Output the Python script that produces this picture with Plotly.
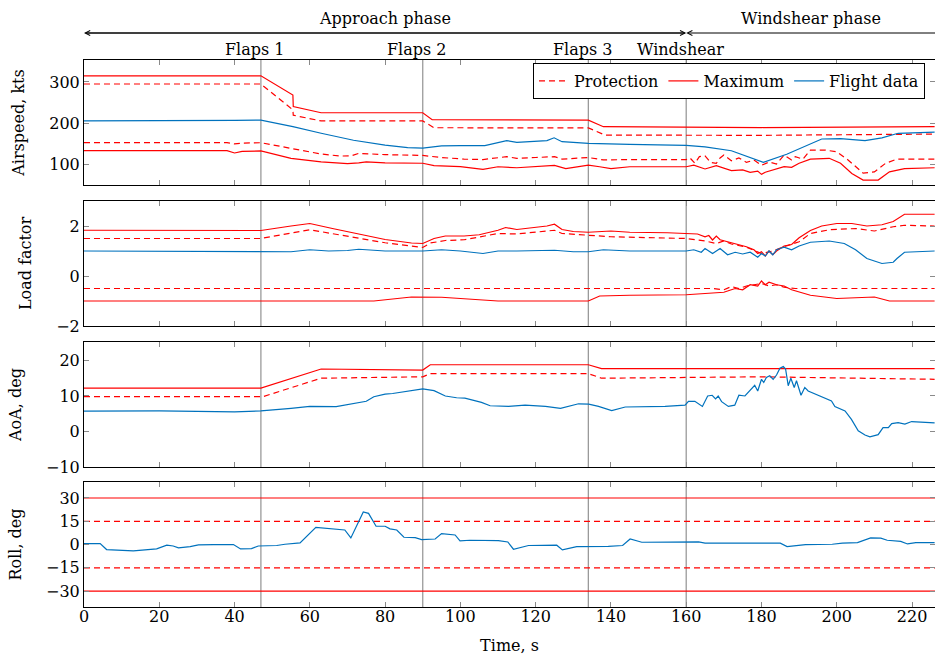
import plotly.graph_objects as go
from plotly.subplots import make_subplots

# ---------------- data ----------------
flap_times = [47, 90, 134]
flap_labels = ["Flaps 1", "Flaps 2", "Flaps 3"]
windshear_time = 160
t_end = 226.1
phase_labels = ["Approach phase", "Windshear phase"]
x_ticks = [0, 20, 40, 60, 80, 100, 120, 140, 160, 180, 200, 220]

# Airspeed, kts
as_max_hi_t = [0, 47, 55.5, 55.6, 63, 90, 92.5, 134, 138, 180, 226]
as_max_hi = [315, 315, 268, 240, 225, 225, 208, 207, 191, 189, 191]
as_prot_hi_t = [0, 47, 55.5, 55.6, 63, 90, 93, 134, 138.5, 180, 226]
as_prot_hi = [295, 295, 232, 219, 205, 205, 188.5, 188, 170.5, 170, 173]
as_blue_t = [0, 20, 40, 47, 55.5, 63, 71.6, 80, 86, 90, 95, 100, 106.5, 112.3, 115, 123, 124.9, 127,
             134, 145, 160, 165, 172, 180.5, 186.7, 196, 201, 207.5, 212, 216.3, 226]
as_blue = [205, 205, 206.5, 207, 191, 175, 158, 146, 140, 139, 144.5, 145, 145, 157, 153, 157, 164, 154.5,
           150.5, 148, 145.5, 142, 132.5, 104, 124, 161, 162, 157, 164, 175, 178]
as_prot_lo_t = [0, 38, 40, 42, 47, 55, 63, 68, 71, 73, 80, 90, 95, 101, 106, 112.3, 115, 120, 125, 127,
                134, 138, 145, 160, 161, 162.3, 163.5, 165, 166.5, 168, 169, 170, 172, 174, 176, 178, 180,
                182, 184, 186, 188, 189, 191, 193, 197, 200, 203, 207, 210, 213, 216, 220, 226]
as_prot_lo = [152, 152, 149, 151, 152, 138, 124.5, 119.5, 120, 126, 123, 121, 116, 112, 111, 118, 114, 116,
              118, 112, 116, 110, 111, 111, 115, 102, 118, 120, 104, 102, 115, 122, 108, 115, 104, 110, 97,
              105, 100, 122, 110, 118, 112, 134, 134, 130, 110, 78, 81, 102, 112, 112, 112]
as_max_lo_t = [0, 38, 40, 42, 47, 55, 63, 67, 70, 73, 75, 80, 90, 93, 100, 106, 110, 115, 123, 125, 128,
               134, 137, 140, 145, 160, 162, 165, 168, 172, 175, 177, 179, 180, 181, 183, 186, 188, 190,
               193, 198, 201, 204, 207, 211, 214, 218, 226]
as_max_lo = [132.5, 132.5, 127, 131, 132, 114, 105.5, 103, 101, 103, 105.5, 103, 102, 96, 94, 87, 93.5, 91,
             95, 97, 89, 97.5, 93.5, 89, 93.5, 93.5, 97.5, 88, 96, 84, 86, 80, 83, 75, 80, 85, 93.5, 92,
             102, 112, 114, 102, 77, 61, 61, 81, 89, 91]

# Load factor
lf_max_hi_t = [0, 40, 47, 55, 60, 66, 72, 80, 87, 90, 93, 96, 101, 105, 110, 112, 115, 120, 123, 125, 127,
               130, 134, 140, 145, 155, 160, 163, 165, 166, 167, 168, 169, 172, 176, 178, 179, 180, 181,
               182, 183, 184, 186, 188, 190, 193, 196, 200, 204, 208, 212, 215, 218, 226]
lf_max_hi = [1.83, 1.84, 1.82, 2.0, 2.1, 1.9, 1.7, 1.46, 1.32, 1.3, 1.5, 1.6, 1.6, 1.65, 1.83, 1.94, 1.86,
             1.94, 2.0, 2.07, 1.86, 1.78, 1.75, 1.8, 1.75, 1.73, 1.7, 1.68, 1.57, 1.62, 1.44, 1.6, 1.45,
             1.33, 1.17, 1.05, 0.9, 0.97, 0.8, 1.0, 0.85, 1.0, 1.2, 1.26, 1.53, 1.82, 2.0, 2.1, 2.1, 2.0,
             2.05, 2.18, 2.47, 2.47]
lf_prot_hi_t = [0, 47, 60, 70, 80, 90, 92, 96, 101, 110, 115, 125, 127, 134, 140, 160, 165, 168, 170, 172,
                176, 180, 183, 186, 190, 193, 198, 205, 210, 215, 218, 226]
lf_prot_hi = [1.5, 1.5, 1.85, 1.6, 1.33, 1.14, 1.32, 1.42, 1.45, 1.7, 1.68, 1.83, 1.7, 1.63, 1.57, 1.5,
              1.4, 1.3, 1.4, 1.28, 1.15, 0.9, 1.0, 1.17, 1.37, 1.7, 1.85, 1.9, 1.8, 1.97, 2.03, 2.0]
lf_blue_t = [0, 20, 40, 47, 52, 55, 60, 65, 70, 73, 80, 90, 95, 100, 106, 110, 115, 125, 130, 134, 138, 145,
             160, 162, 164, 165, 167, 169, 171, 173, 175, 177, 179, 180, 181, 182, 183, 184, 186, 188, 190,
             193, 198, 202, 205, 208, 212, 215, 216, 218, 226]
lf_blue = [1.0, 1.0, 0.98, 1.0, 0.97, 0.97, 1.05, 1.0, 1.02, 1.07, 1.0, 1.0, 1.05, 1.0, 0.9, 1.0, 1.0, 1.03,
           0.97, 0.97, 1.05, 1.0, 1.0, 1.05, 0.95, 1.1, 0.9, 1.1, 0.85, 0.95, 0.88, 0.95, 0.75, 0.9, 0.8,
           1.0, 0.85, 1.05, 1.15, 1.05, 1.2, 1.35, 1.4, 1.3, 1.05, 0.7, 0.5, 0.55, 0.7, 0.95, 1.0]
lf_max_lo_t = [0, 77, 87, 95, 100, 110, 134, 137, 145, 160, 170, 173, 175, 177, 179, 180, 181, 182, 184,
               186, 188, 193, 200, 210, 214, 226]
lf_max_lo = [-1.0, -1.0, -0.84, -0.85, -0.9, -1.0, -1.0, -0.8, -0.77, -0.75, -0.65, -0.5, -0.55, -0.35,
             -0.4, -0.2, -0.35, -0.25, -0.35, -0.4, -0.55, -0.77, -0.9, -0.84, -1.0, -1.0]
lf_prot_lo_t = [0, 167, 170, 172, 174, 176, 178, 180, 182, 184, 186, 189, 226]
lf_prot_lo = [-0.5, -0.5, -0.55, -0.42, -0.5, -0.4, -0.35, -0.3, -0.4, -0.35, -0.45, -0.5, -0.5]

# Angle of attack, deg
aoa_max_t = [0, 47, 63, 90, 92, 134, 137.5, 226]
aoa_max = [12.2, 12.2, 17.6, 17.3, 18.8, 18.8, 17.7, 17.7]
aoa_prot_t = [0, 47.5, 63, 90, 92, 134, 137.5, 160, 180, 226]
aoa_prot = [9.8, 9.8, 15.0, 15.4, 16.3, 16.3, 15.0, 15.2, 15.4, 14.7]
aoa_blue_t = [0, 20, 40, 47, 55, 60, 67, 70, 73, 75, 77, 80, 82, 85, 90, 93, 96, 99, 101.2, 105.6, 107.9,
              112.8, 117.2, 122.6, 126.6, 131.4, 134.1, 136.7, 140.2, 143.8, 154.4, 159.7, 160.6, 162.3,
              164.3, 165.7, 166.9, 167.8, 168.5, 169.4, 171.2, 172.9, 174.0, 175.6, 177.4, 178.2, 179.0,
              180.0, 180.6, 181.3, 182.2, 183.1, 184.0, 184.9, 185.8, 186.4, 187.1, 187.8, 188.7, 189.3,
              190.5, 191.5, 192.4, 195.1, 198.6, 199.5, 202.2, 203.9, 205.7, 207.5, 208.8, 211.0, 212.3,
              213.7, 214.6, 216.3, 218.1, 219.9, 226]
aoa_blue = [5.75, 5.8, 5.5, 5.8, 6.5, 7.05, 7.0, 7.5, 8.2, 8.5, 9.8, 10.5, 10.7, 11.2, 12.0, 11.5, 10.0, 9.5,
            9.4, 8.2, 7.25, 7.05, 7.4, 7.05, 6.5, 7.8, 7.7, 7.05, 5.9, 6.9, 7.05, 7.4, 8.5, 8.5, 7.05, 10.0,
            10.2, 9.2, 10.0, 8.4, 7.05, 7.4, 10.2, 10.0, 11.9, 13.0, 11.4, 14.7, 13.8, 15.2, 15.7, 14.7,
            15.9, 17.8, 18.3, 17.6, 12.9, 15.0, 12.4, 14.3, 10.2, 12.4, 11.4, 10.2, 8.6, 7.05, 5.8, 3.4,
            0.2, -1.0, -1.5, -0.9, 1.1, 1.1, 2.2, 2.5, 2.1, 2.8, 2.4]

# Roll, deg
roll_t = [0, 4.3, 6.0, 13.1, 19.3, 22.0, 23.7, 25.1, 28.2, 30.4, 34.4, 39.7, 41.6, 44.5, 46.3, 51.2, 53.4,
          57.4, 61.6, 69.3, 70.9, 74.2, 75.6, 77.6, 80.0, 81.3, 83.1, 85.0, 88.0, 89.7, 93.3, 95.0, 98.6,
          99.9, 102.5, 110.1, 112.6, 114.1, 118.1, 125.6, 127.1, 130.9, 139.3, 143.1, 145.1, 148.2, 163.3,
          165.0, 185.0, 186.8, 191.7, 198.8, 201.5, 205.5, 209.0, 211.7, 213.4, 217.0, 218.8, 221.0, 226]
roll = [0.6, 0.6, -3.2, -4.1, -2.8, -0.4, -0.9, -2.1, -1.3, -0.2, 0.0, 0.0, -2.8, -2.6, -0.9, -0.6, 0.2,
        1.1, 11.1, 9.4, 4.3, 21.0, 20.1, 11.8, 11.8, 10.1, 9.4, 4.7, 4.5, 3.2, 3.6, 7.1, 6.2, 2.4, 2.8, 2.6,
        1.7, -3.0, -0.6, -0.4, -3.4, -1.3, -1.1, -0.6, 3.6, 1.5, 1.7, 0.9, 0.9, -1.3, 0.0, 0.2, 0.9, 1.3,
        4.3, 4.1, 2.8, 2.1, 0.4, 1.3, 1.3]
roll_lim_t = [0, 226.1]
roll_max_hi = [30, 30]
roll_prot_hi = [15, 15]
roll_prot_lo = [-15, -15]
roll_max_lo = [-30, -30]

# ---------------- style ----------------
RED = "#ff0000"
BLUE = "#0072bd"
GRAY = "#9a9a9a"
FONT = "DejaVu Serif"
FS = 16
LW = 1.2
DASH = "6px,4px"

W, H = 935, 655
PL, PR, PT, PB = 84, 935, 60, 607          # plot area in window pixels
ML, MR, MT, MB = PL, W - PR, PT, H - PB
plot_h = H - MT - MB
plot_w = W - ML - MR


def ypaper(px):
    return (PB - px) / plot_h


def ydom(top_px, bot_px):
    return [ypaper(bot_px), ypaper(top_px)]


domains = [ydom(60, 185), ydom(201, 326), ydom(342, 467), ydom(482, 607)]

fig = make_subplots(rows=4, cols=1, shared_xaxes=True, vertical_spacing=0.02)


def add(row, t, y, kind, name=None, show=False, rank=None):
    if kind == "prot":
        line = dict(color=RED, width=LW, dash=DASH)
    elif kind == "max":
        line = dict(color=RED, width=LW)
    else:
        line = dict(color=BLUE, width=LW)
    fig.add_trace(go.Scatter(x=t, y=y, mode="lines", line=line, name=name, showlegend=show,
                             legendrank=rank if rank else 1000, hoverinfo="skip"), row=row, col=1)


add(1, as_max_hi_t, as_max_hi, "max", "Maximum", True, 2)
add(1, as_prot_hi_t, as_prot_hi, "prot", "Protection", True, 1)
add(1, as_prot_lo_t, as_prot_lo, "prot")
add(1, as_max_lo_t, as_max_lo, "max")
add(1, as_blue_t, as_blue, "blue", "Flight data", True, 3)

add(2, lf_max_hi_t, lf_max_hi, "max")
add(2, lf_prot_hi_t, lf_prot_hi, "prot")
add(2, lf_prot_lo_t, lf_prot_lo, "prot")
add(2, lf_max_lo_t, lf_max_lo, "max")
add(2, lf_blue_t, lf_blue, "blue")

add(3, aoa_max_t, aoa_max, "max")
add(3, aoa_prot_t, aoa_prot, "prot")
add(3, aoa_blue_t, aoa_blue, "blue")

add(4, roll_lim_t, roll_max_hi, "max")
add(4, roll_lim_t, roll_prot_hi, "prot")
add(4, roll_lim_t, roll_prot_lo, "prot")
add(4, roll_lim_t, roll_max_lo, "max")
add(4, roll_t, roll, "blue")

# vertical event lines
for r in range(1, 5):
    for ft in flap_times + [windshear_time]:
        fig.add_vline(x=ft, line=dict(color=GRAY, width=1.3), row=r, col=1, layer="below")

y_ranges = [[49, 353.5], [-2, 3], [-10, 25.2], [-40.2, 40.3]]
y_tickvals = [[100, 200, 300], [-2, 0, 2], [-10, 0, 10, 20], [-30, -15, 0, 15, 30]]
y_titles = ["Airspeed, kts", "Load factor", "AoA, deg", "Roll, deg"]

axis_common = dict(showline=True, linecolor="black", linewidth=1, mirror="ticks", ticks="inside",
                   ticklen=5, tickcolor="#8a8a8a", tickwidth=1, showgrid=False, zeroline=False,
                   tickfont=dict(family=FONT, size=FS, color="black"))

for i in range(4):
    xa = "xaxis" if i == 0 else f"xaxis{i+1}"
    ya = "yaxis" if i == 0 else f"yaxis{i+1}"
    fig.layout[xa].update(range=[0, t_end], tickvals=x_ticks, showticklabels=(i == 3), domain=[0, 1],
                          **axis_common)
    fig.layout[ya].update(range=y_ranges[i], tickvals=y_tickvals[i], domain=domains[i],
                          title=dict(text=y_titles[i], font=dict(family=FONT, size=FS, color="black"),
                                     standoff=20),
                          **axis_common)

fig.layout.xaxis4.update(ticklabelstandoff=-5,
                         title=dict(text="Time, s", font=dict(family=FONT, size=FS, color="black"),
                                    standoff=19))

# event labels
for ft, lab in zip(flap_times + [windshear_time], flap_labels + ["Windshear"]):
    fig.add_annotation(x=ft, y=ypaper(49), xref="x", yref="paper", yanchor="middle", text=lab,
                       showarrow=False, xshift=-6, font=dict(family=FONT, size=FS, color="black"))

# phase labels and arrows
fig.add_annotation(x=(0 + windshear_time) / 2, y=ypaper(18), xref="x", yref="paper", yanchor="middle",
                   text=phase_labels[0], showarrow=False, font=dict(family=FONT, size=FS, color="black"))
fig.add_annotation(x=(windshear_time + t_end) / 2, y=ypaper(18), xref="x", yref="paper", yanchor="middle",
                   text=phase_labels[1], showarrow=False, font=dict(family=FONT, size=FS, color="black"))
arrow_y = ypaper(33)
for head, tail in [(0, windshear_time), (windshear_time, 0), (windshear_time, t_end + 5)]:
    fig.add_annotation(x=head, y=arrow_y, xref="x", yref="paper", ax=tail, ay=0, axref="x",
                       ayref="pixel", text="", showarrow=True, arrowhead=5, arrowsize=1.0,
                       arrowwidth=1, arrowcolor="black", standoff=0)

fig.update_layout(
    width=W, height=H,
    margin=dict(l=ML, r=MR, t=MT, b=MB),
    paper_bgcolor="white", plot_bgcolor="white",
    font=dict(family=FONT, size=FS, color="black"),
    legend=dict(orientation="h", x=(925 - PL) / plot_w, xanchor="right", y=ypaper(63),
                yanchor="top", bordercolor="black", borderwidth=1, bgcolor="white",
                font=dict(family=FONT, size=FS, color="black"), itemwidth=30, tracegroupgap=0),
)

fig.write_html("out.html", config={"displayModeBar": False},
               post_script="document.body.style.margin='0px';document.body.style.overflow='hidden';")
